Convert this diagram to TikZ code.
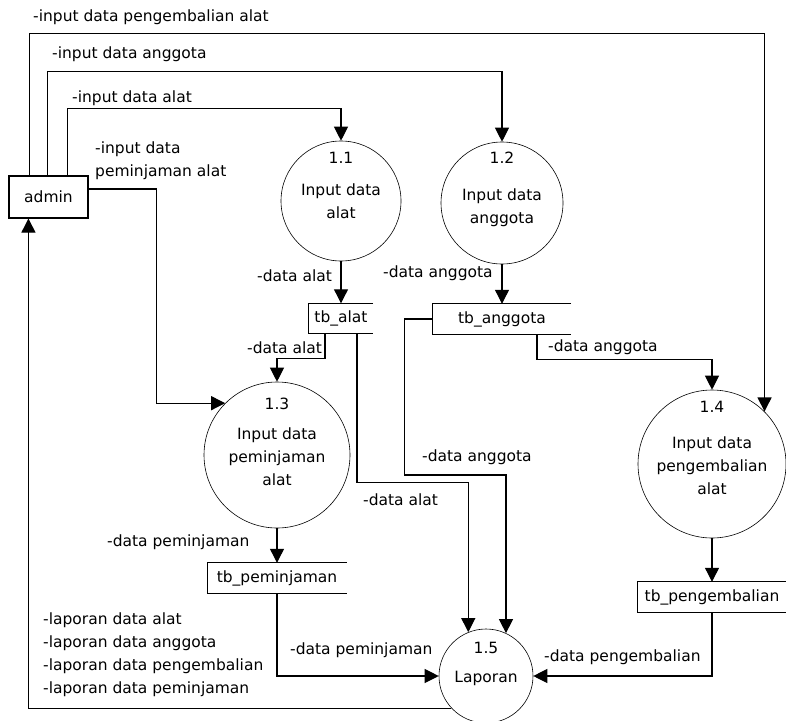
\documentclass[tikz,border=0pt]{standalone}
\usepackage{fontspec}
\setmainfont{DejaVu Sans}
\usetikzlibrary{arrows.meta}

\begin{document}
\begin{tikzpicture}[x=1pt,y=-1pt,
  font=\fontsize{15.5}{23}\selectfont,
  flow/.style={-{Triangle[length=14pt,width=14pt]},line width=1.1pt},
  proc/.style={circle,draw,line width=0.6pt,minimum size=#1,inner sep=0pt},
  store/.style={minimum width=#1,minimum height=30pt,inner sep=0pt},
  lbl/.style={anchor=west,inner sep=0pt,align=left}]
\useasboundingbox (0,0) rectangle (786,720);

% entitas luar
\node[draw,line width=1.1pt,minimum width=79pt,minimum height=42pt,inner sep=0pt] (admin) at (48.5,197) {admin};

% proses
\node[proc=120pt] (p11) at (341,201) {};
\node[proc=122pt] (p12) at (502,203) {};
\node[proc=146pt] (p13) at (277,455) {};
\node[proc=148pt] (p14) at (712,464) {};
\node[proc=94pt] (p15) at (486,676) {};
\node[align=center,inner sep=0pt] (t11) at ([yshift=15.5pt]p11.center) {1.1\\[9pt]Input data\\alat};
\node[align=center,inner sep=0pt] (t12) at ([yshift=14pt]p12.center) {1.2\\[14pt]Input data\\anggota};
\node[align=center,inner sep=0pt] (t13) at ([yshift=13pt]p13.center) {1.3\\[7pt]Input data\\peminjaman\\alat};
\node[align=center,inner sep=0pt] (t14) at ([yshift=16pt]p14.center) {1.4\\[13pt]Input data\\pengembalian\\alat};
\node[align=center,inner sep=0pt] (t15) at ([yshift=11.6pt]p15.center) {1.5\\[6pt]Laporan};

% data store
\node[store=64pt] (tbalat) at (341,318.5) {tb\_alat};
\node[store=138pt] (tbanggota) at (502,319) {tb\_anggota};
\node[store=139pt] (tbpeminjaman) at (277,578) {tb\_peminjaman};
\node[store=148pt] (tbpengembalian) at (712,597) {tb\_pengembalian};
\foreach \s in {tbalat,tbanggota,tbpeminjaman,tbpengembalian}
  \draw[line width=1.1pt] (\s.north east) -- (\s.north west) -- (\s.south west) -- (\s.south east);

% aliran dari admin
\draw[flow] ([xshift=59pt]admin.north west) -- ++(0,-67) -| (p11.north);
\draw[flow] ([xshift=39pt]admin.north west) -- ++(0,-104) -| (p12.north);
\draw[flow] ([xshift=21pt]admin.north west) -- ++(0,-142) -| (p14.north east);
\draw[flow] ([yshift=8pt]admin.east) -- ++(68,0) |- (p13.135);

% aliran antar proses dan store
\draw[flow] (p11.south) -- (tbalat.north);
\draw[flow] (p12.south) -- (tbanggota.north);
\draw[flow] ([xshift=-16pt]tbalat.south) -- ++(0,25) -| (p13.north);
\draw[flow] ([xshift=16pt]tbalat.south) -- ++(0,149) -| (p15.112);
\draw[flow] (tbanggota.west) -- ++(-28,0) -- ++(0,156) -| (p15.65);
\draw[flow] ([xshift=35pt]tbanggota.south) -- ++(0,25) -| (p14.north);
\draw[flow] (p13.south) -- (tbpeminjaman.north);
\draw[flow] (p14.south) -- (tbpengembalian.north);
\draw[flow] (tbpeminjaman.south) |- (p15.west);
\draw[flow] (tbpengembalian.south) |- (p15.east);
\draw[flow] (p15.223) -| ([xshift=20pt]admin.south west);

% label aliran
\node[lbl] (lpengembalian) at (33,17) {-input data pengembalian alat};
\node[lbl] (languta) at (52,54) {-input data anggota};
\node[lbl] (lalat) at (72,98) {-input data alat};
\node[lbl] (lpinjam) at (95,161) {-input data\\peminjaman alat};
\node[lbl] (d1) at (257,276) {-data alat};
\node[lbl] (d2) at (383,273) {-data anggota};
\node[lbl] (d3) at (247,348) {-data alat};
\node[lbl] (d4) at (548,347) {-data anggota};
\node[lbl] (d5) at (422,457) {-data anggota};
\node[lbl] (d6) at (363,500) {-data alat};
\node[lbl] (d7) at (107,542) {-data peminjaman};
\node[lbl] (d8) at (290,650) {-data peminjaman};
\node[lbl] (d9) at (544,657) {-data pengembalian};
\node[lbl] (llaporan) at (43,655) {-laporan data alat\\-laporan data anggota\\-laporan data pengembalian\\-laporan data peminjaman};
\end{tikzpicture}
\end{document}
